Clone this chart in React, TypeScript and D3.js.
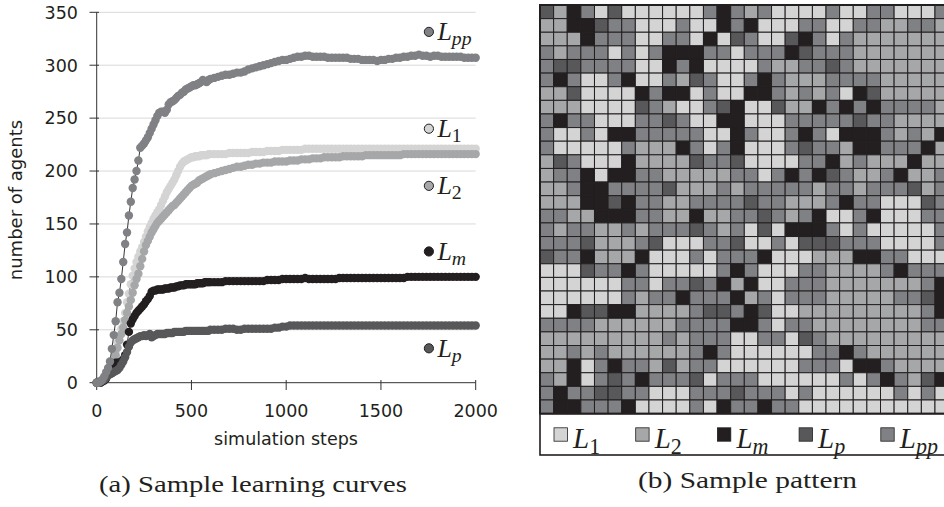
import React from 'react';
import * as d3 from 'd3';

// sampling steps of the learning curves
const steps: number[] = [...d3.range(0, 600, 10), ...d3.range(600, 2001, 20)];

const seriesL1 = [
  0, 0, 1, 2, 4, 6, 9, 12, 16, 22,
  30, 38, 44, 51, 58, 66, 76, 84, 93, 101,
  108, 114, 119, 124, 128, 133, 138, 143, 147, 151,
  155, 158, 161, 164, 168, 172, 176, 180, 183, 186,
  189, 192, 196, 200, 204, 207, 209, 210, 211, 212,
  213, 213, 214, 214, 214, 215, 215, 215, 215, 216,
  216, 216, 216, 216, 216, 217, 217, 217, 217, 217,
  217, 218, 218, 218, 218, 219, 219, 219, 219, 220,
  220, 220, 220, 220, 220, 221, 221, 221, 221, 221,
  221, 221, 221, 221, 221, 221, 221, 221, 221, 221,
  221, 221, 221, 221, 221, 221, 221, 221, 221, 221,
  221, 221, 221, 221, 221, 221, 221, 221, 221, 221,
  221, 221, 221, 221, 221, 221, 221, 221, 221, 221, 221,
];

const seriesL2 = [
  0, 0, 1, 2, 4, 6, 8, 11, 15, 20,
  26, 33, 40, 46, 52, 59, 66, 72, 78, 85,
  92, 98, 103, 110, 117, 124, 130, 134, 138, 142,
  145, 148, 151, 153, 155, 157, 159, 161, 163, 165,
  167, 168, 170, 172, 174, 176, 178, 180, 182, 184,
  186, 187, 188, 189, 191, 192, 193, 194, 195, 196,
  197, 198, 199, 200, 201, 202, 203, 204, 204, 205,
  206, 206, 207, 207, 208, 208, 208, 209, 209, 209,
  209, 210, 210, 210, 211, 211, 211, 212, 212, 212,
  213, 213, 213, 213, 213, 214, 214, 214, 214, 214,
  214, 215, 215, 215, 215, 215, 215, 215, 215, 215,
  215, 216, 216, 216, 216, 216, 216, 216, 216, 216,
  216, 216, 216, 216, 216, 216, 216, 216, 216, 216, 216,
];

const seriesLm = [
  0, 0, 0, 1, 2, 4, 8, 12, 16, 18,
  19, 19, 19, 20, 22, 26, 36, 48, 56, 60,
  63, 66, 68, 70, 72, 74, 77, 79, 82, 86,
  87, 87, 88, 88, 88, 88, 89, 89, 89, 90,
  90, 90, 91, 91, 92, 92, 92, 93, 93, 93,
  93, 93, 93, 94, 94, 94, 94, 95, 95, 95,
  95, 95, 95, 95, 96, 96, 96, 96, 96, 96,
  96, 96, 96, 96, 96, 97, 97, 97, 97, 98,
  98, 98, 98, 98, 98, 99, 98, 98, 98, 98,
  98, 98, 98, 98, 99, 99, 99, 99, 99, 99,
  99, 99, 99, 99, 99, 99, 99, 99, 99, 99,
  99, 99, 100, 100, 100, 100, 100, 100, 100, 100,
  100, 100, 100, 100, 100, 100, 100, 100, 100, 100, 100,
];

const seriesLp = [
  0, 1, 1, 2, 3, 5, 7, 8, 9, 10,
  11, 12, 14, 17, 20, 24, 29, 34, 38, 40,
  41, 42, 43, 44, 44, 45, 44, 45, 46, 43,
  44, 45, 46, 46, 46, 46, 46, 47, 47, 47,
  47, 48, 48, 48, 48, 48, 48, 49, 49, 49,
  49, 49, 49, 49, 49, 49, 49, 49, 49, 49,
  50, 50, 50, 50, 51, 51, 51, 50, 50, 51,
  51, 51, 51, 51, 51, 51, 51, 52, 52, 53,
  53, 54, 54, 54, 54, 54, 54, 54, 54, 54,
  54, 54, 54, 54, 54, 54, 54, 54, 54, 54,
  54, 54, 54, 54, 54, 54, 54, 54, 54, 54,
  54, 54, 54, 54, 54, 54, 54, 54, 54, 54,
  54, 54, 54, 54, 54, 54, 54, 54, 54, 54, 54,
];

const seriesLpp = [
  0, 0, 1, 3, 6, 10, 14, 20, 32, 45,
  58, 76, 85, 98, 114, 131, 142, 158, 171, 184,
  192, 200, 210, 222, 224, 226, 229, 232, 236, 240,
  244, 248, 252, 255, 256, 256, 255, 258, 263, 265,
  266, 267, 269, 271, 272, 274, 275, 277, 278, 279,
  280, 281, 281, 282, 283, 284, 286, 285, 284, 286,
  287, 288, 289, 290, 291, 291, 292, 293, 293, 294,
  296, 297, 298, 299, 300, 301, 302, 303, 304, 305,
  305, 306, 307, 308, 308, 309, 309, 308, 308, 308,
  308, 307, 307, 307, 307, 307, 307, 306, 306, 306,
  305, 305, 305, 305, 304, 305, 305, 306, 306, 307,
  307, 308, 308, 309, 309, 310, 309, 309, 308, 309,
  309, 308, 308, 308, 308, 308, 308, 307, 307, 307, 307,
];

const seriesKeys = ['L1', 'L2', 'Lm', 'Lp', 'Lpp'];
const seriesSub = ['1', '2', 'm', 'p', 'pp'];
const seriesValues = [seriesL1, seriesL2, seriesLm, seriesLp, seriesLpp];
const seriesColors = ['#d4d4d5', '#a6a7a9', '#231f20', '#58585a', '#808184'];
// label anchor positions (in axis units) of the labels next to the curves
const labelAtY = [240, 186, 124, 32.5, 331.5];
const labelAtX = 1753;

const yTicks = [0, 50, 100, 150, 200, 250, 300, 350];
const xTicks = [0, 500, 1000, 1500, 2000];

// sample pattern: W=L1, A=L2, K=Lm, D=Lp, M=Lpp
const patternRows = [
  'DAKMWDWWWWWWMKMAMWWWWMWWMMWWWM',
  'AAKKDMMWWWMWWKMKWWWMMWWMMAAMMA',
  'AAAKMMMWWMMWKWDMWWDKMWMAAAAAAA',
  'MAMMMWMWMKKKMMWMMMKDMMMAAAAAAA',
  'MDDMMMMWWKMKWWWWMAAMMDMAAAAAAA',
  'MKMWWMKWWMADMWWMKMAAAMMMMAAAAA',
  'AADWWWWKMKKWMWWKKMAMAMWKDAAAAA',
  'AAAWWWWDMAWWMDKWWDAAKMKMKMMMMA',
  'MKMMWWWMMDMWWKKWWWMMMMMDMMAAAA',
  'MWWMWKKMMMMMWWKMWWMKMWKKKMAMAK',
  'MWWWWWMAAAKMWMKWWWMDMMAKKMMMKA',
  'ADMWWWKAAAADMMDWWWWMMKAMAAAKAA',
  'AMMKWKKMMAAAAAMMWMKMKDMAAMKAAM',
  'AAMKKMMMMDAAAMAMMMMMAMMAMMMDAM',
  'AAAKKDKMMAAMMMMDMMAAAMKMMWWWDM',
  'MMAAKKKMMAAKAAMMDMAMKWWMKWWWMM',
  'MAMMAAMAMMMDMAMWDWKKKMWMWWWWWM',
  'MMMDAAAMDWWWMMDWWMWDDDMMMWWWWM',
  'DMMKAAAKWWWMWMMMKWWWAAAKKMMWWW',
  'WWWDMMKMWWWWWMKMWWWMMAAAAMKMMM',
  'WWWWWWMMWMMDMKAKWWMMMAAAAAAAMK',
  'WWWWWWMAMMKMMMKAMWMMMAAAAAMMDK',
  'WWKDDKKAAAAMDDMKDWWAAAAAAAAAMK',
  'MMMMAAAAAAMMMMKKMWMMAAAAAAAAMM',
  'AAAAAAAAAMAMMMWWMMWDMAAAAAAAAA',
  'AAMAMAAAAAAMKMWWWWWWMMKMAAAAAA',
  'AAKWMKMMADAMMWWWWWWMMMWKKMAAAA',
  'MAKWMDMKMMMDWMMMWWWWWWMWMKMADK',
  'MKMMDDMMWWWMMMDMMMWMWWWWWWMWMW',
  'MKKMMMKWWWWMWKMMKMMWWWWWWWWWWW',
];
const patternCode = ['W', 'A', 'K', 'D', 'M'];

const INK = '#231f20';

function Label({ x, y, sub, size }: { x: number; y: number; sub: string; size: number }) {
  const numeric = /^[0-9]+$/.test(sub);
  return (
    <text x={x} y={y} fontFamily="'Liberation Serif', serif" fontSize={size} fill={INK}>
      <tspan fontStyle="italic">L</tspan>
      <tspan fontStyle={numeric ? 'normal' : 'italic'} fontSize={size * 0.76} dy={size * 0.2}>
        {sub}
      </tspan>
    </text>
  );
}

export default function App() {
  const x = d3.scaleLinear().domain([0, 2000]).range([96.7, 475.7]);
  const y = d3.scaleLinear().domain([0, 350]).range([382.7, 12.3]);
  const line = d3
    .line<number>()
    .x((_, i) => x(steps[i]))
    .y((d) => y(d));

  const nCols = patternRows[0].length;
  const nRows = patternRows.length;
  const cx = d3.scaleBand<number>().domain(d3.range(nCols)).range([540, 948.6]);
  const cy = d3.scaleBand<number>().domain(d3.range(nRows)).range([5, 413.6]);
  const cellColor = (ch: string) => seriesColors[patternCode.indexOf(ch)];

  const legendX = d3.scaleBand<number>().domain(d3.range(5)).range([554, 962.5]);

  return (
    <svg
      width={944}
      height={507}
      style={{ position: 'absolute', left: 0, top: 0, background: '#fff' }}
    >
      <rect x={0} y={0} width={944} height={507} fill="#fff" />
      {/* ---------- (a) learning curves ---------- */}
      <g>
        {yTicks.slice(1).map((t) => (
          <line key={'g' + t} x1={x(0)} x2={x(2000)} y1={y(t)} y2={y(t)} stroke="#d9d9d9" strokeWidth={1} />
        ))}
        <line x1={x(0)} x2={x(0)} y1={y(350)} y2={y(0)} stroke="#333" strokeWidth={1} />
        <line x1={x(0)} x2={x(2000)} y1={y(0)} y2={y(0)} stroke="#333" strokeWidth={1} />
        {yTicks.map((t) => (
          <g key={'y' + t}>
            <line x1={89.5} x2={99} y1={y(t)} y2={y(t)} stroke="#333" strokeWidth={1} />
            <text
              x={78}
              y={y(t) + 6.3}
              textAnchor="end"
              fontFamily="'DejaVu Sans', sans-serif"
              fontSize={17.5}
              fill={INK}
            >
              {t}
            </text>
          </g>
        ))}
        {xTicks.map((t) => (
          <g key={'x' + t}>
            <line x1={x(t)} x2={x(t)} y1={380} y2={390} stroke="#333" strokeWidth={1} />
            <text
              x={x(t)}
              y={416.7}
              textAnchor="middle"
              fontFamily="'DejaVu Sans', sans-serif"
              fontSize={17.5}
              fill={INK}
            >
              {t}
            </text>
          </g>
        ))}
        <text
          x={286}
          y={445}
          textAnchor="middle"
          fontFamily="'DejaVu Sans', sans-serif"
          fontSize={17.5}
          fill={INK}
        >
          simulation steps
        </text>
        <text
          transform="translate(22,200) rotate(-90)"
          textAnchor="middle"
          fontFamily="'DejaVu Sans', sans-serif"
          fontSize={18}
          fill={INK}
        >
          number of agents
        </text>

        {seriesValues.map((vals, si) => (
          <g key={'s' + si}>
            <path d={line(vals) || ''} fill="none" stroke={INK} strokeWidth={0.9} />
            {vals.map((v, i) => (
              <circle key={i} cx={x(steps[i])} cy={y(v)} r={4.2} fill={seriesColors[si]} />
            ))}
          </g>
        ))}

        {seriesKeys.map((k, si) => (
          <g key={'lab' + k}>
            <circle
              cx={x(labelAtX)}
              cy={y(labelAtY[si])}
              r={4.6}
              fill={seriesColors[si]}
              stroke={INK}
              strokeWidth={1}
            />
            <Label x={x(labelAtX) + 8.5} y={y(labelAtY[si]) + 8.3} sub={seriesSub[si]} size={26} />
          </g>
        ))}

        <text
          x={99}
          y={492}
          fontFamily="'Liberation Serif', serif"
          fontSize={23}
          textLength={308}
          lengthAdjust="spacingAndGlyphs"
          fill={INK}
        >
          (a) Sample learning curves
        </text>
      </g>

      {/* ---------- (b) sample pattern ---------- */}
      <g>
        <rect x={540} y={413.6} width={410} height={41.4} fill="#fff" stroke={INK} strokeWidth={1.6} />
        {patternRows.map((row, r) =>
          row.split('').map((ch, c) => (
            <rect
              key={r + '-' + c}
              x={cx(c)}
              y={cy(r)}
              width={cx.bandwidth()}
              height={cy.bandwidth()}
              fill={cellColor(ch)}
              stroke={INK}
              strokeWidth={1}
            />
          ))
        )}
        <rect x={540} y={5} width={408.6} height={408.6} fill="none" stroke={INK} strokeWidth={2} />

        {seriesKeys.map((k, si) => (
          <g key={'leg' + k}>
            <rect
              x={legendX(si)}
              y={427.8}
              width={13.4}
              height={13.4}
              fill={seriesColors[si]}
              stroke={INK}
              strokeWidth={0.8}
            />
            <Label x={(legendX(si) as number) + 19} y={447.7} sub={seriesSub[si]} size={29} />
          </g>
        ))}

        <text
          x={638}
          y={488}
          fontFamily="'Liberation Serif', serif"
          fontSize={23}
          textLength={219}
          lengthAdjust="spacingAndGlyphs"
          fill={INK}
        >
          (b) Sample pattern
        </text>
      </g>
    </svg>
  );
}
